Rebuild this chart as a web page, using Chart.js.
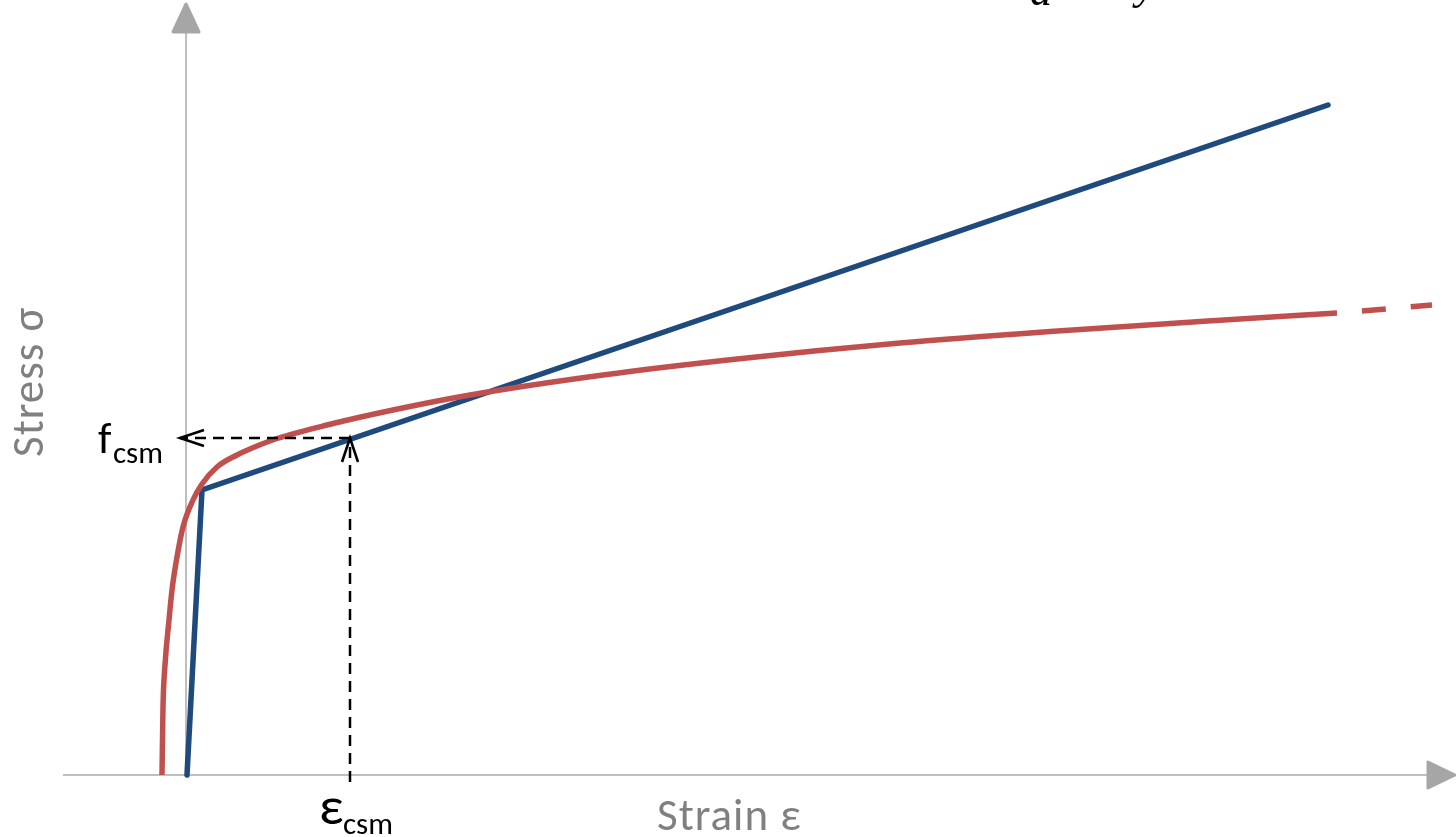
<!DOCTYPE html>
<html>
<head>
<meta charset="utf-8">
<script src="https://cdn.jsdelivr.net/npm/chart.js@4.4.1/dist/chart.umd.min.js"></script>
<style>
  html,body{margin:0;padding:0;background:#fff;overflow:hidden}
  #wrap{width:1456px;height:837px}
</style>
</head>
<body>
<div id="wrap"><canvas id="c" width="1456" height="837"></canvas></div>
<script>
/* Schematic stress-strain plot: material curve (red) vs. CSM bilinear model (blue).
   Units are arbitrary: origin = where the two axes cross. */

// measured material curve (solid part)
const RED_X = [-0.24, -0.23, -0.21, -0.17, -0.14, -0.09, -0.03, 0.07, 0.16, 0.31, 0.51, 0.71, 0.91, 1.41, 2.07, 2.84, 4.17, 5.51, 7.14, 8.64, 10.14, 11.51];
const RED_Y = [0.00, 0.68, 1.10, 1.55, 1.85, 2.18, 2.48, 2.75, 2.91, 3.08, 3.20, 3.29, 3.365, 3.50, 3.65, 3.80, 4.00, 4.16, 4.32, 4.435, 4.535, 4.62];
// extrapolated tail (dashed)
const RED_TAIL_X = [11.51, 12.46];
const RED_TAIL_Y = [4.62, 4.70];

// CSM bilinear model
const BLUE_X = [0.01, 0.16, 11.42];
const BLUE_Y = [0.00, 2.85, 6.70];

// CSM point and its guide lines
const GUIDE_H_X = [1.64, -0.06];
const GUIDE_H_Y = [3.37, 3.37];
const GUIDE_V_X = [1.64, 1.64];
const GUIDE_V_Y = [-0.07, 3.37];

// axis extents (arrow tips)
const AXIS_X = [-1.23, 12.69];
const AXIS_Y = [0, 7.71];

const RED  = '#C0504D';
const BLUE = '#1F4A7E';
const AXIS = '#BFBFBF';
const FONT = "Carlito, Calibri, Lato, 'Open Sans', sans-serif";

const pts = (xs, ys) => xs.map((v,i)=>({x:v, y:ys[i]}));

/* ── axes, arrowheads and labels ─────────────────────────── */
const decor = {
  id:'decor',
  beforeDatasetsDraw(chart){
    const {ctx, scales:{x, y}} = chart;
    const ox = x.getPixelForValue(0), oy = y.getPixelForValue(0);
    const xl = x.getPixelForValue(AXIS_X[0]), xr = x.getPixelForValue(AXIS_X[1]);
    const yt = y.getPixelForValue(AXIS_Y[1]);
    ctx.save();
    ctx.strokeStyle = AXIS; ctx.lineWidth = 2;
    ctx.beginPath(); ctx.moveTo(xl, oy); ctx.lineTo(xr-26, oy); ctx.stroke();
    ctx.beginPath(); ctx.moveTo(ox, oy); ctx.lineTo(ox, yt+26); ctx.stroke();
    ctx.fillStyle = '#A6A6A6'; ctx.strokeStyle = '#A6A6A6'; ctx.lineJoin = 'round'; ctx.lineWidth = 3;
    ctx.beginPath(); ctx.moveTo(xr, oy); ctx.lineTo(xr-27, oy-13); ctx.lineTo(xr-27, oy+13); ctx.closePath(); ctx.fill(); ctx.stroke();
    ctx.beginPath(); ctx.moveTo(ox, yt); ctx.lineTo(ox-13, yt+28); ctx.lineTo(ox+13, yt+28); ctx.closePath(); ctx.fill(); ctx.stroke();
    ctx.restore();
  },
  afterDatasetsDraw(chart){
    const {ctx, scales:{x, y}} = chart;
    ctx.save();
    // open arrowheads at the end of the dashed guides
    ['guideH','guideV'].forEach(id=>{
      const idx = chart.data.datasets.findIndex(d=>d.id===id);
      const el = chart.getDatasetMeta(idx).data;
      const a = el[el.length-2], b = el[el.length-1];
      const ang = Math.atan2(b.y-a.y, b.x-a.x);
      const L = 24, W = 8;
      ctx.strokeStyle = '#000'; ctx.lineWidth = 2.6; ctx.lineJoin = 'miter'; ctx.setLineDash([]);
      ctx.beginPath();
      ctx.moveTo(b.x - L*Math.cos(ang) - W*Math.sin(ang), b.y - L*Math.sin(ang) + W*Math.cos(ang));
      ctx.lineTo(b.x, b.y);
      ctx.lineTo(b.x - L*Math.cos(ang) + W*Math.sin(ang), b.y - L*Math.sin(ang) - W*Math.cos(ang));
      ctx.stroke();
    });

    const P = (vx, vy) => [x.getPixelForValue(vx), y.getPixelForValue(vy)];
    ctx.textBaseline = 'alphabetic'; ctx.textAlign = 'left';

    // f_csm
    ctx.fillStyle = '#000';
    ctx.font = `44px ${FONT}`;
    let [px, py] = P(-0.88, 3.22); ctx.fillText('f', px, py);
    ctx.font = `31px ${FONT}`;
    [px, py] = P(-0.73, 3.12); ctx.fillText('csm', px, py);

    // ε_csm
    ctx.font = `54px ${FONT}`;
    [px, py] = P(1.33, -0.49); ctx.fillText('ε', px, py);
    ctx.font = `31px ${FONT}`;
    [px, py] = P(1.57, -0.59); ctx.fillText('csm', px, py);

    // axis titles
    ctx.fillStyle = '#808080';
    ctx.font = `45px ${FONT}`;
    ctx.letterSpacing = '1px';
    [px, py] = P(4.71, -0.55); ctx.fillText('Strain ε', px, py);
    [px, py] = P(-1.43, 3.18);
    ctx.translate(px, py); ctx.rotate(-Math.PI/2); ctx.fillText('Stress σ', 0, 0);
    ctx.setTransform(1,0,0,1,0,0);
    ctx.letterSpacing = '0px';

    // clipped equation glyphs at the top edge
    ctx.fillStyle = '#000';
    ctx.font = `italic 44px 'Liberation Serif', serif`;
    [px, py] = P(8.44, 7.70); ctx.fillText('a', px, py);
    [px, py] = P(9.50, 7.76); ctx.fillText('y', px, py);
    ctx.restore();
  }
};

new Chart(document.getElementById('c'), {
  type:'scatter',
  data:{datasets:[
    {id:'guideH', data:pts(GUIDE_H_X, GUIDE_H_Y), showLine:true, borderColor:'#000', borderWidth:2.5, borderDash:[11,7], pointRadius:0},
    {id:'guideV', data:pts(GUIDE_V_X, GUIDE_V_Y), showLine:true, borderColor:'#000', borderWidth:2.5, borderDash:[11,7], pointRadius:0},
    {id:'material', data:pts(RED_X, RED_Y), showLine:true, borderColor:RED, borderWidth:5.5, cubicInterpolationMode:'monotone', borderCapStyle:'butt', pointRadius:0},
    {id:'tail', data:pts(RED_TAIL_X, RED_TAIL_Y), showLine:true, borderColor:RED, borderWidth:5.5, borderDash:[24,25], borderDashOffset:24, borderCapStyle:'butt', pointRadius:0},
    {id:'csm', data:pts(BLUE_X, BLUE_Y), showLine:true, borderColor:BLUE, borderWidth:5.5, borderCapStyle:'round', borderJoinStyle:'miter', pointRadius:0}
  ]},
  options:{
    responsive:false, animation:false, devicePixelRatio:1,
    layout:{padding:0},
    plugins:{legend:{display:false}, tooltip:{enabled:false}},
    scales:{
      x:{type:'linear', min:-1.86, max:12.70, display:false},
      y:{type:'linear', min:-0.62, max:7.75, display:false}
    }
  },
  plugins:[decor]
});
</script>
</body>
</html>
